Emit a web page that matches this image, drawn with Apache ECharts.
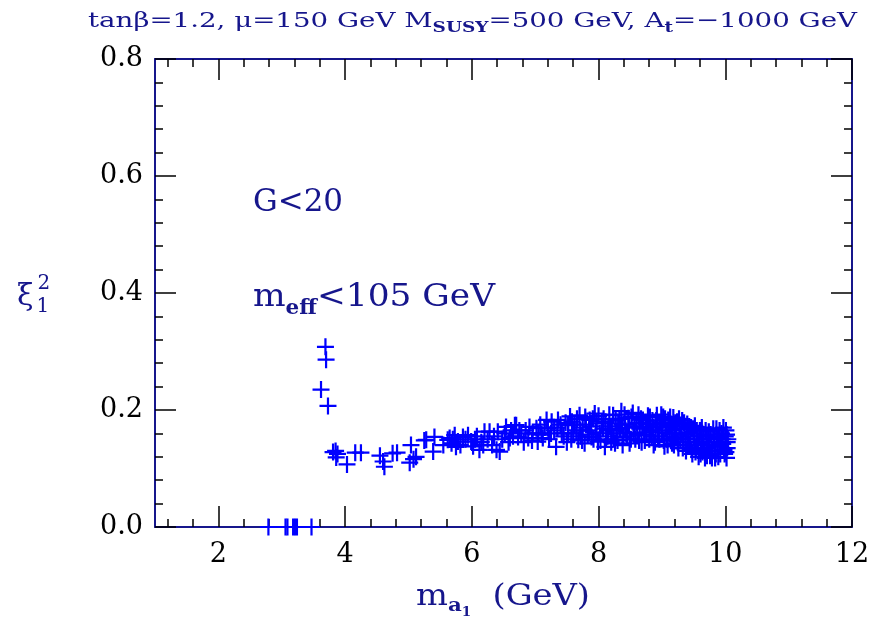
<!DOCTYPE html>
<html><head><meta charset="utf-8">
<script src="https://cdn.jsdelivr.net/npm/echarts@6/dist/echarts.min.js"></script>
<style>html,body{margin:0;padding:0;background:#fff}#c{width:873px;height:621px}</style>
</head><body><div id="c"></div>
<script>
// ---- axis ticks ----
const xMajorTicks = [2, 4, 6, 8, 10, 12];
const xMinorTicks = [1.2,1.6,2.0,2.4,2.8,3.2,3.6,4.0,4.4,4.8,5.2,5.6,6.0,6.4,6.8,7.2,7.6,8.0,8.4,8.8,9.2,9.6,10.0,10.4,10.8,11.2,11.6];
const yTickValues = [0, 0.2, 0.4, 0.6, 0.8];

// ---- data (m_a1 [GeV], xi_1^2) ----
const zeroPoints = [[2.79,0],[3.06,0],[3.09,0],[3.18,0],[3.21,0],[3.24,0],[3.47,0]];
const peakPoints = [[3.69,0.308],[3.70,0.286],[3.62,0.235],[3.73,0.207]];
const lowPoints = [[3.81,0.128],[3.85,0.130],[3.86,0.119],[3.88,0.125],[4.03,0.107],[4.16,0.127],[4.25,0.127],
  [4.55,0.122],[4.60,0.112],[4.62,0.103],[4.75,0.126],[4.82,0.127],[5.02,0.110],[5.08,0.116],[5.04,0.140],[5.12,0.120]];
const midPoints = [[5.25,0.148],[5.28,0.149],[5.39,0.129],[5.41,0.154],[5.62,0.149],[5.65,0.152],[5.68,0.143],[5.73,0.157],
  [5.75,0.137],[5.78,0.146],[5.86,0.154],[5.94,0.157],[5.99,0.146],[6.05,0.150],[6.12,0.132],[6.15,0.145],[6.20,0.163],
  [6.25,0.150],[6.28,0.163],[6.32,0.140],[6.39,0.132],[6.41,0.163],[6.44,0.129],[6.48,0.150],[6.52,0.160],[6.54,0.171],
  [6.60,0.152],[6.62,0.165],[6.68,0.174],[6.70,0.174],[6.73,0.154],[6.78,0.160],[6.82,0.145],[6.85,0.165],[6.89,0.152],
  [6.91,0.171],[6.96,0.160],[7.02,0.169],[7.04,0.146],[7.05,0.160],[7.12,0.152],[7.15,0.170],[7.18,0.183],[7.20,0.169],
  [7.22,0.150],[7.26,0.180],[7.30,0.165],[7.33,0.137],[7.36,0.183],[7.40,0.175],[7.45,0.155],[7.50,0.145],[7.52,0.174],
  [7.55,0.189],[7.58,0.180],[7.60,0.160],[7.65,0.165],[7.68,0.149],[7.70,0.191],[7.72,0.155],[7.75,0.170],[7.78,0.143],
  [7.80,0.175],[7.85,0.165],[7.86,0.183],[7.89,0.154],[7.92,0.150],[7.94,0.194],[7.97,0.180],[7.99,0.146],[8.02,0.160],
  [8.05,0.177],[8.08,0.185],[8.10,0.137],[8.12,0.150],[8.15,0.166],[8.18,0.172],[8.20,0.145],[8.23,0.191],[8.26,0.143],
  [8.28,0.160],[8.31,0.177],[8.33,0.185],[8.36,0.198],[8.38,0.140],[8.39,0.154],[8.42,0.170],[8.45,0.155],[8.47,0.186],[8.49,0.143],
  [5.55,0.140],[5.70,0.150],[5.82,0.140],[5.90,0.150],[6.02,0.138],[6.08,0.155],[6.18,0.140],[6.35,0.155],[6.58,0.145],
  [6.65,0.155],[6.75,0.165],[6.95,0.148],[7.08,0.175],[7.10,0.158],[7.25,0.160],[7.35,0.170],[7.42,0.160],[7.48,0.178]];
const tailPoints = [[8.52,0.188],[8.55,0.160],[8.58,0.150],[8.60,0.178],[8.63,0.192],[8.65,0.168],[8.68,0.145],[8.70,0.183],
  [8.72,0.158],[8.75,0.175],[8.78,0.190],[8.80,0.150],[8.82,0.165],[8.85,0.182],[8.87,0.140],[8.90,0.172],[8.92,0.191],
  [8.94,0.155],[8.97,0.178],[9.00,0.162],[9.02,0.188],[9.04,0.138],[9.06,0.170],[9.08,0.150],[9.10,0.183],[9.12,0.160],
  [9.14,0.176],[9.16,0.143],[9.18,0.187],[9.20,0.167],[9.22,0.152],[9.24,0.180],[9.26,0.135],[9.28,0.172],[9.30,0.158],
  [9.32,0.182],[9.34,0.145],[9.36,0.168],[9.38,0.130],[9.40,0.176],[9.42,0.155],[9.44,0.140],[9.46,0.170],[9.48,0.125],
  [9.50,0.160],[9.52,0.173],[9.54,0.135],[9.56,0.150],[9.58,0.120],[9.60,0.165],[9.62,0.142],[9.64,0.128],[9.66,0.158],
  [9.68,0.118],[9.70,0.150],[9.72,0.135],[9.74,0.163],[9.76,0.122],[9.78,0.145],[9.80,0.130],[9.82,0.155],[9.84,0.118],
  [9.86,0.168],[9.88,0.138],[9.90,0.150],[9.92,0.125],[9.94,0.160],[9.96,0.142],[9.97,0.170],[9.98,0.132],[10.00,0.155],
  [10.01,0.165],[10.02,0.118],[10.03,0.145]];
const densePoints = [[7.52,0.160],[7.57,0.150],[7.62,0.175],[7.66,0.185],[7.71,0.165],[7.74,0.148],[7.79,0.188],[7.83,0.158],
  [7.88,0.172],[7.91,0.185],[7.96,0.162],[8.00,0.190],[8.03,0.148],[8.07,0.168],[8.11,0.180],[8.14,0.155],[8.17,0.192],
  [8.21,0.165],[8.24,0.150],[8.27,0.182],[8.30,0.148],[8.34,0.168],[8.37,0.175],[8.41,0.192],[8.44,0.160],[8.48,0.175],
  [8.51,0.150],[8.54,0.195],[8.57,0.172],[8.61,0.158],[8.64,0.148],[8.67,0.185],[8.69,0.170],[8.73,0.148],[8.76,0.162],
  [8.79,0.176],[8.81,0.188],[8.84,0.155],[8.86,0.170],[8.89,0.145],[8.91,0.182],[8.93,0.165],[8.96,0.150],[8.99,0.192],
  [9.01,0.175],[9.03,0.148],[9.05,0.185],[9.07,0.160],[9.09,0.140],[9.11,0.172],[9.13,0.188],[9.15,0.155],[9.17,0.165],
  [9.19,0.140],[9.21,0.178],[9.23,0.160],[9.25,0.145],[9.27,0.185],[9.29,0.150],[9.31,0.168],[9.33,0.135],[9.35,0.178],
  [9.37,0.150],[9.39,0.162],[9.41,0.140],[9.43,0.172],[9.45,0.150],[9.47,0.132],[9.49,0.168],[9.51,0.145],[9.53,0.128],
  [9.55,0.165],[9.57,0.140],[9.59,0.155],[9.61,0.125],[9.63,0.170],[9.65,0.145],[9.67,0.132],[9.69,0.165],[9.71,0.122],
  [9.73,0.150],[9.75,0.140],[9.77,0.158],[9.79,0.118],[9.81,0.168],[9.83,0.140],[9.85,0.125],[9.87,0.152],[9.89,0.120],
  [9.91,0.165],[9.93,0.138],[9.95,0.150],[9.99,0.125],[10.02,0.158],[10.03,0.135],[10.04,0.150],[10.01,0.128]];

const NAVY = '#16168c';
const BLUE = '#0000ff';
const FONT = '"DejaVu Serif", serif';

const allPoints = zeroPoints.concat(peakPoints, lowPoints, midPoints, tailPoints, densePoints);

const chart = echarts.init(document.getElementById('c'), null, {renderer: 'canvas'});

const mctx = document.createElement('canvas').getContext('2d');
function measure(t, fs, bold) { mctx.font = (bold ? 'bold ' : '') + fs + 'px ' + FONT; return mctx.measureText(t).width; }
function composite(pieces, x, baseline, targetWidth) {
  let cx = 0; const children = [];
  pieces.forEach(p => {
    const w = measure(p.t, p.fs, p.bold);
    const px = cx + (p.dx || 0);
    children.push({type: 'text', x: px, y: -0.3 * p.fs + (p.dy || 0),
      style: {text: p.t, font: (p.bold ? 'bold ' : '') + p.fs + 'px ' + FONT, fill: NAVY, verticalAlign: 'middle', align: 'left'}});
    if (!p.noAdvance) cx = px + w;
  });
  const s = targetWidth ? targetWidth / cx : 1;
  return {type: 'group', x: x, y: baseline, scaleX: s, children: children};
}

const cross = 'path://M-0.13,-1L0.13,-1L0.13,-0.13L1,-0.13L1,0.13L0.13,0.13L0.13,1L-0.13,1L-0.13,0.13L-1,0.13L-1,-0.13L-0.13,-0.13Z';

function xAxisCfg(pos, major, showLine) {
  return {
    type: 'value', position: pos, min: 1, max: 12,
    axisLine: {show: showLine, onZero: false, lineStyle: {color: NAVY, width: 2}},
    axisTick: {show: true, inside: true, length: major ? 21 : 8, customValues: major ? xMajorTicks : xMinorTicks,
      lineStyle: {color: '#000', width: 1.5}},
    axisLabel: {show: pos === 'bottom' && major, customValues: xMajorTicks, margin: 14,
      fontFamily: FONT, fontSize: 27, color: '#000'},
    splitLine: {show: false}
  };
}
function yAxisCfg(pos) {
  return {
    type: 'value', position: pos, min: 0, max: 0.8, interval: 0.2,
    axisLine: {show: true, onZero: false, lineStyle: {color: NAVY, width: 2}},
    axisTick: {show: true, inside: true, length: 21, lineStyle: {color: '#000', width: 1.5}},
    minorTick: {show: true, splitNumber: 5, length: 8, lineStyle: {color: '#000', width: 1.5}},
    axisLabel: {show: pos === 'left', margin: 12, fontFamily: FONT, fontSize: 27, color: '#000',
      formatter: v => v.toFixed(1)},
    splitLine: {show: false}
  };
}

const option = {
  animation: false,
  backgroundColor: '#fff',
  grid: {left: 155, right: 21, top: 59, bottom: 94, containLabel: false},
  xAxis: [xAxisCfg('bottom', true, true), xAxisCfg('bottom', false, false), xAxisCfg('top', true, true), xAxisCfg('top', false, false)],
  yAxis: [yAxisCfg('left'), yAxisCfg('right')],
  series: [{
    type: 'scatter', xAxisIndex: 0, yAxisIndex: 0, clip: false,
    symbol: cross, symbolSize: 17,
    itemStyle: {color: BLUE, opacity: 1},
    data: allPoints
  }],
  graphic: [
    composite([
      {t: 'tanβ=1.2, μ=150 GeV M', fs: 21},
      {t: 'SUSY', fs: 14, dy: 5, bold: true},
      {t: '=500 GeV, A', fs: 21},
      {t: 't', fs: 14, dy: 5, bold: true},
      {t: '=−1000 GeV', fs: 21}
    ], 88, 28, 769),
    composite([{t: 'G<20', fs: 32}], 253, 212, 90),
    composite([
      {t: 'm', fs: 32},
      {t: 'eff', fs: 20, dy: 8, bold: true},
      {t: '<105 GeV', fs: 32}
    ], 253, 307, 242),
    composite([
      {t: 'ξ', fs: 30},
      {t: '1', fs: 20, dy: 7, dx: 3, noAdvance: true},
      {t: '2', fs: 20, dy: -16, dx: 4}
    ], 17, 306, null),
    composite([
      {t: 'm', fs: 30},
      {t: 'a', fs: 19, dy: 6, bold: true},
      {t: '1', fs: 12, dy: 10, bold: true},
      {t: '  (GeV)', fs: 30}
    ], 416, 606, 174)
  ]
};
chart.setOption(option);
</script>
</body></html>
